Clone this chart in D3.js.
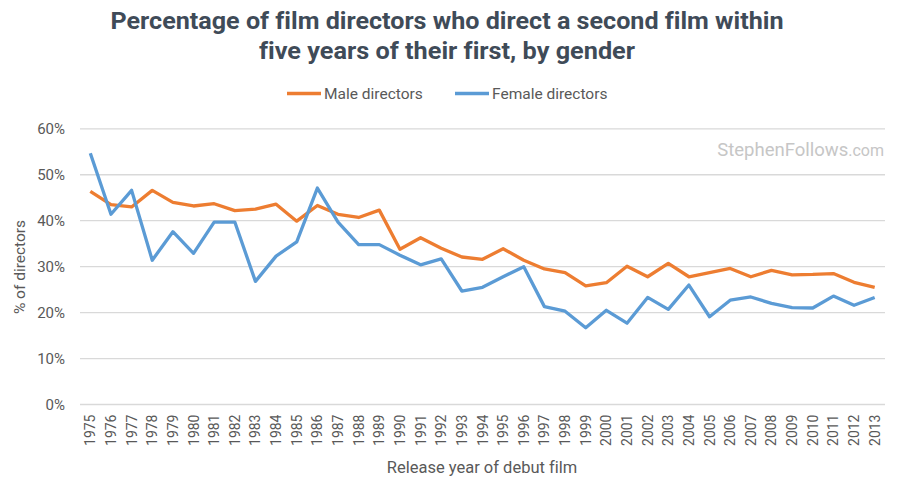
<!DOCTYPE html>
<html><head><meta charset="utf-8">
<script src="https://cdn.jsdelivr.net/npm/d3@7"></script>
<style>
body{margin:0;background:#fff;}
svg{display:block;font-family:Roboto,"Open Sans",sans-serif;font-variant-ligatures:none;}
</style></head>
<body><svg id="chart" width="900" height="482"></svg>
<script>
const years = ["1975","1976","1977","1978","1979","1980","1981","1982","1983","1984","1985","1986","1987","1988","1989","1990","1991","1992","1993","1994","1995","1996","1997","1998","1999","2000","2001","2002","2003","2004","2005","2006","2007","2008","2009","2010","2011","2012","2013"];
const maleValues = [46.4,43.5,43.0,46.6,44.0,43.2,43.7,42.2,42.5,43.6,39.9,43.3,41.4,40.7,42.3,33.8,36.3,34.0,32.1,31.6,33.9,31.4,29.5,28.7,25.8,26.5,30.1,27.8,30.7,27.8,28.7,29.6,27.8,29.2,28.2,28.3,28.5,26.6,25.5];
const femaleValues = [54.7,41.4,46.6,31.4,37.6,32.9,39.7,39.7,26.8,32.3,35.4,47.1,39.7,34.8,34.8,32.5,30.4,31.7,24.7,25.5,27.8,30.0,21.3,20.3,16.7,20.5,17.7,23.3,20.7,26.0,19.1,22.7,23.4,22.0,21.1,21.0,23.6,21.6,23.3];
const yTicks = [0,10,20,30,40,50,60];
const seriesNames = ["Male directors","Female directors"];
const colors = ["#ed7d31","#5b9bd5"];

const svg = d3.select("#chart");
const x = d3.scaleBand().domain(years).range([80,885]);
const y = d3.scaleLinear().domain([0,60]).range([404.5,128.8]);
const textCol = "#595959";

// title
const title = svg.append("g").attr("fill","#3f4b58").attr("font-weight","bold").attr("font-size",23.5).attr("text-anchor","middle");
title.append("text").attr("x",447).attr("y",28.5).attr("textLength",673).attr("lengthAdjust","spacingAndGlyphs")
  .text("Percentage of film directors who direct a second film within");
title.append("text").attr("x",447).attr("y",58.5).attr("textLength",376).attr("lengthAdjust","spacingAndGlyphs")
  .text("five years of their first, by gender");

// legend
const legX = [287,455];
seriesNames.forEach((n,i)=>{
  const g = svg.append("g").attr("transform",`translate(${legX[i]},93.5)`);
  g.append("line").attr("x1",0).attr("x2",34).attr("y1",0).attr("y2",0).attr("stroke",colors[i]).attr("stroke-width",3.5);
  g.append("text").attr("x",37).attr("y",5.5).attr("font-size",15.5).attr("fill",textCol).text(n);
});

// gridlines
svg.append("g").selectAll("line").data(yTicks).join("line")
  .attr("x1",80).attr("x2",885).attr("y1",d=>y(d)).attr("y2",d=>y(d))
  .attr("stroke","#d9d9d9").attr("stroke-width",1.3);

// watermark
const wm = svg.append("text").attr("x",884).attr("y",156).attr("text-anchor","end").attr("fill","#c6c6c6");
wm.append("tspan").attr("font-size",18.5).text("StephenFollows");
wm.append("tspan").attr("font-size",16).text(".com");

// y axis
const yAxis = svg.append("g").attr("transform","translate(80,0)")
  .call(d3.axisLeft(y).tickValues(yTicks).tickSize(0).tickPadding(15).tickFormat(d=>d+"%"));
yAxis.select(".domain").remove();
yAxis.selectAll("text").attr("font-size",15).attr("fill",textCol).attr("font-family","Roboto");

// x axis
const xAxis = svg.append("g").attr("transform","translate(0,404.5)")
  .call(d3.axisBottom(x).tickSize(0).tickPadding(0));
xAxis.select(".domain").remove();
xAxis.selectAll("text").attr("font-size",14).attr("fill",textCol).attr("font-family","Roboto")
  .attr("text-anchor","end").attr("dy",null).attr("y",0).attr("x",-10)
  .attr("dominant-baseline","central")
  .attr("transform","rotate(-90)");

// axis titles
svg.append("text").attr("x",482).attr("y",473).attr("text-anchor","middle").attr("font-size",16.5).attr("fill",textCol).text("Release year of debut film");
svg.append("text").attr("transform","translate(25,267) rotate(-90)").attr("text-anchor","middle").attr("font-size",15.5).attr("fill",textCol).text("% of directors");

// lines
const line = d3.line().x((d,i)=>x(years[i])+x.bandwidth()/2).y(d=>y(d));
[maleValues,femaleValues].forEach((vals,i)=>{
  svg.append("path").datum(vals).attr("d",line).attr("fill","none").attr("stroke",colors[i])
    .attr("stroke-width",3.3).attr("stroke-linejoin","round").attr("stroke-linecap","butt");
});
</script></body></html>
